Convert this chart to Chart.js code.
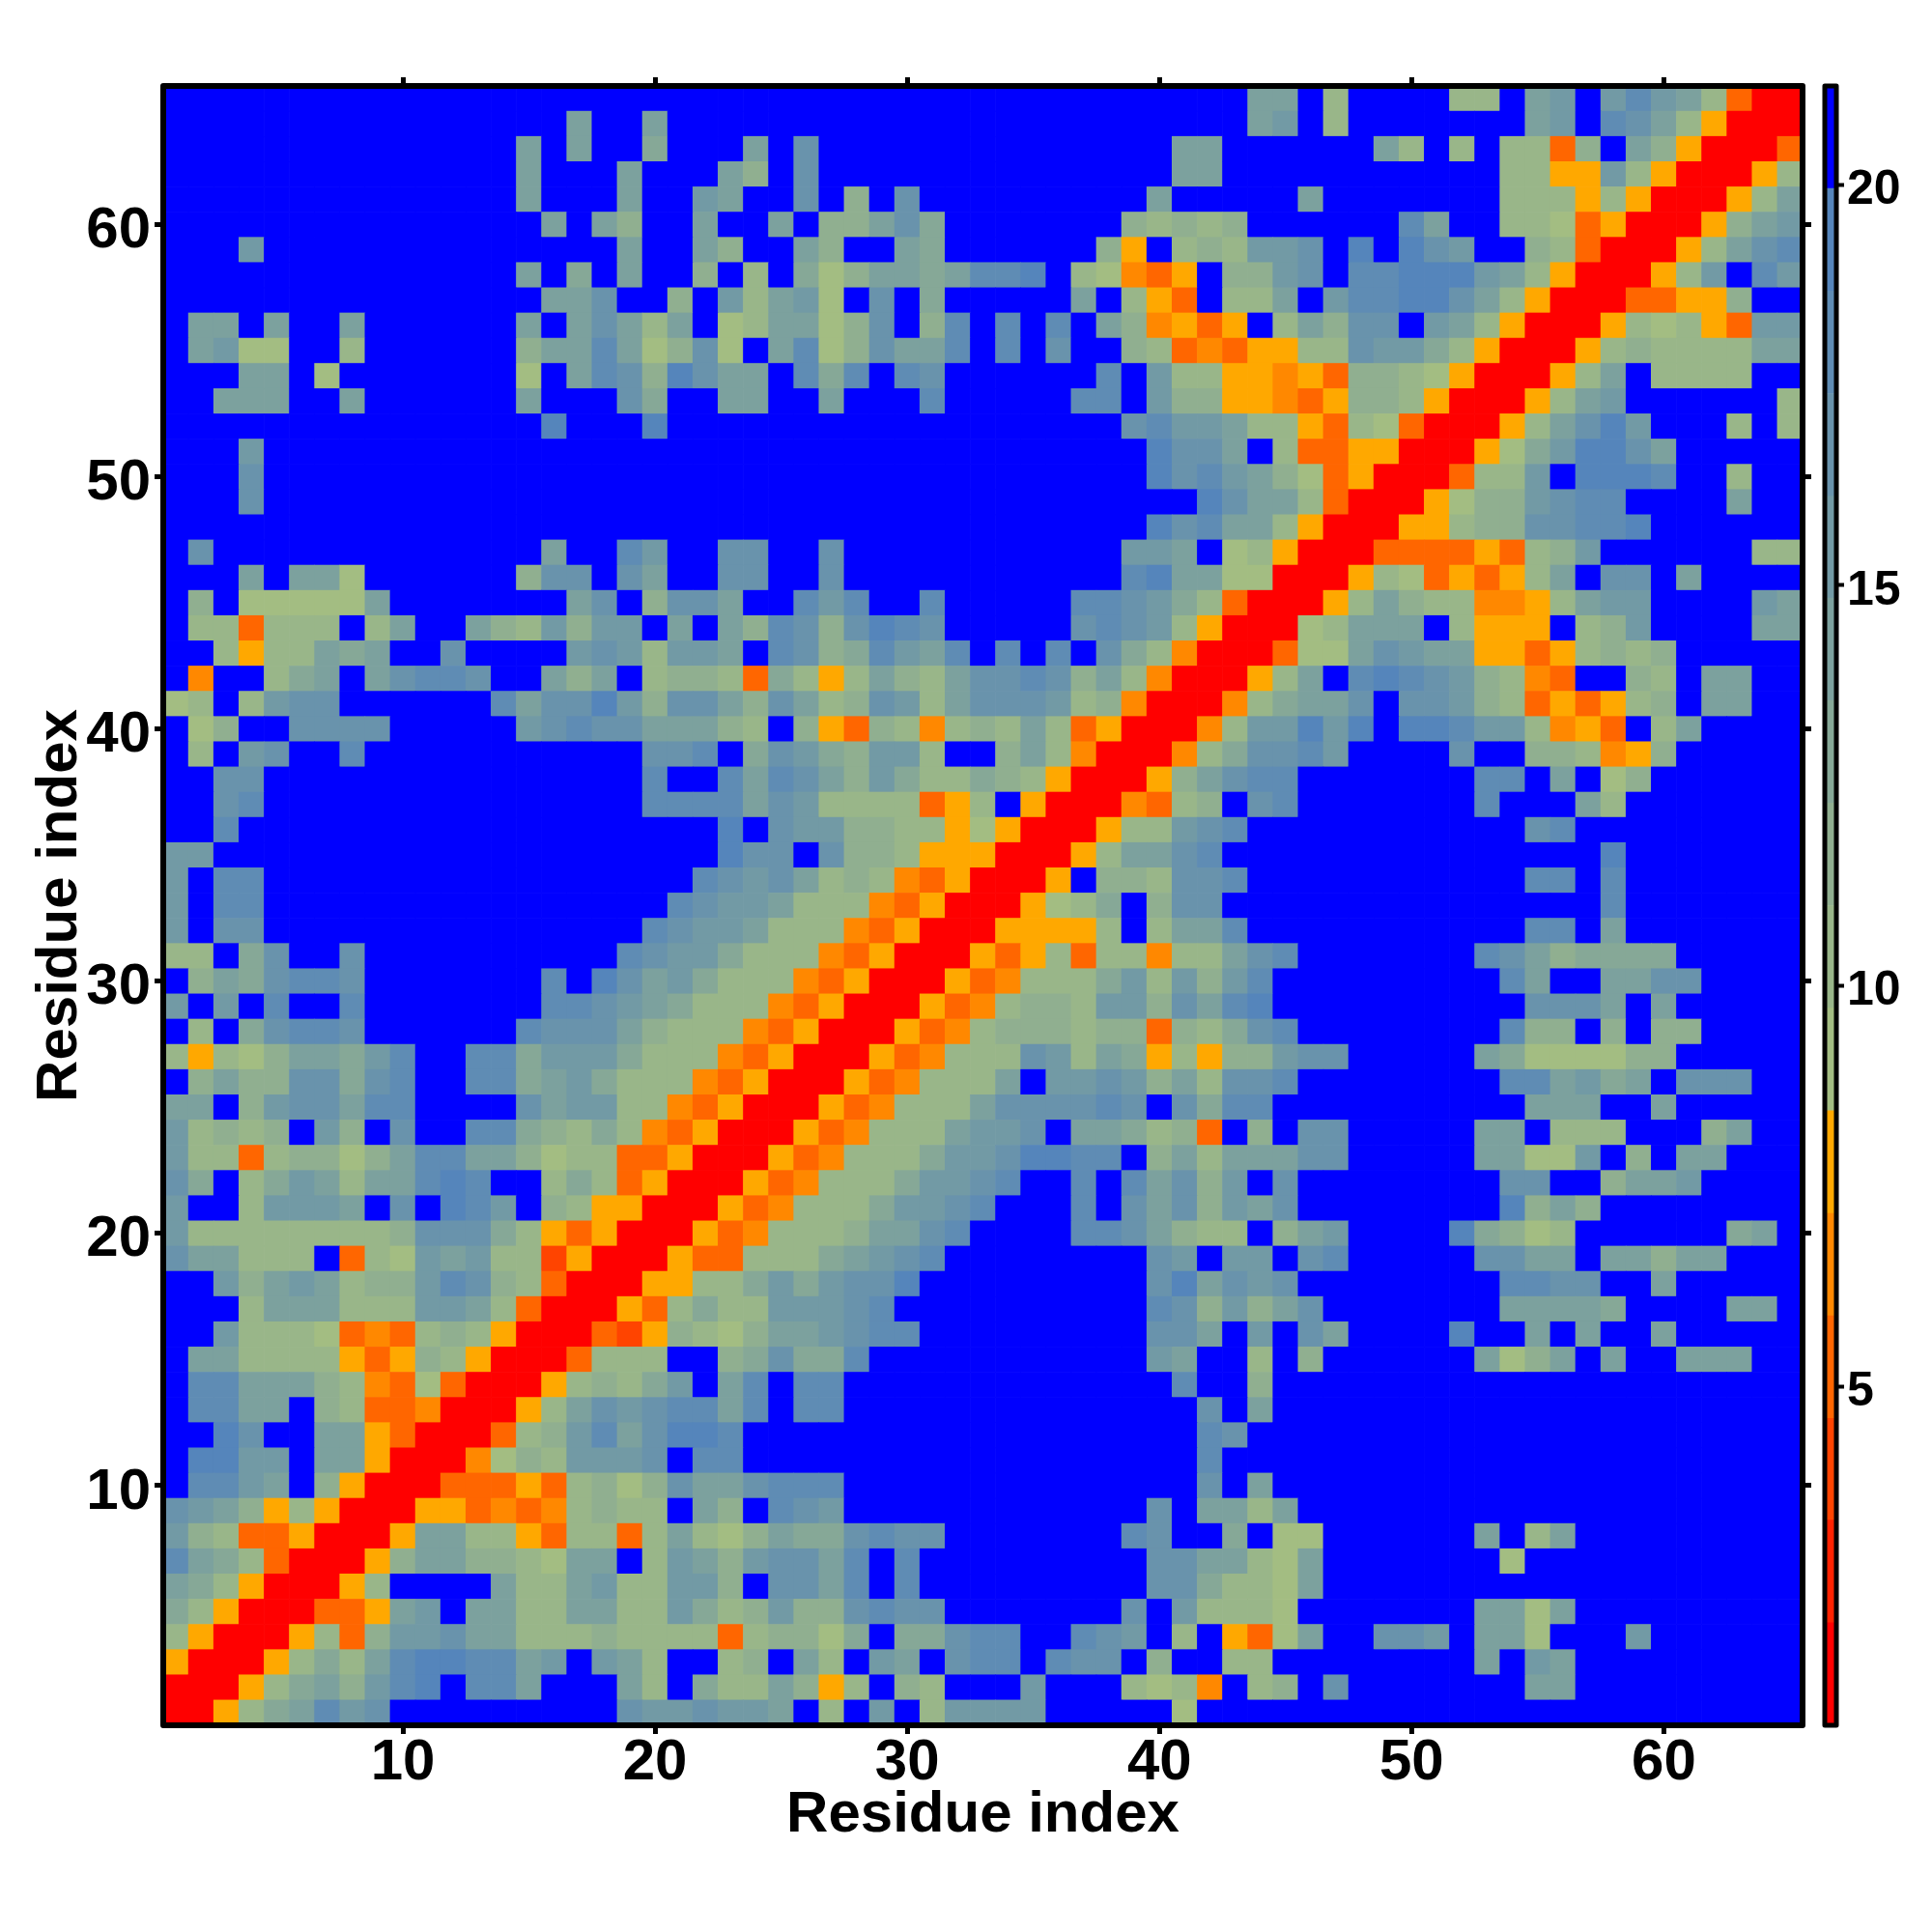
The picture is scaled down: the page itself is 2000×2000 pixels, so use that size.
<!DOCTYPE html>
<html>
<head>
<meta charset="utf-8">
<title>Residue distance map</title>
<script src="https://cdn.jsdelivr.net/npm/chart.js@4"></script>
<style>
    html, body { margin: 0; padding: 0; background: #ffffff; }
    #mapCanvas { position: absolute; left: 0; top: 0; }
    #barCanvas { position: absolute; left: 1860px; top: 0; }
</style>
</head>
<body>
<canvas id="mapCanvas" width="2000" height="2000"></canvas>
<canvas id="barCanvas" width="140" height="2000"></canvas>
<script>
// Tick labels
const residueTicks = [10, 20, 30, 40, 50, 60];
const colorbarTicks = [5, 10, 15, 20];

// Colour bands, lowest first: edges
const bandEdges = [0.77, 2.05, 3.33, 4.6, 5.88, 7.16, 8.44, 9.72, 11.0, 12.28, 13.56, 14.84, 16.11, 17.39, 18.67, 19.95, 21.23];
const bandColors = [
    '#ff0000', '#ff2200', '#ff4400', '#ff6600', '#ff8800', '#ffa800',
    '#a3bd82', '#99b689', '#90af90', '#86a897', '#7ca19e', '#729aa5', '#6993ac', '#5f8cb4', '#5585bb',
    '#0000ff'
];

// The map is symmetric. Each row holds columns from the diagonal to 65,
// one hex digit per cell = index of the colour band
const upperRows = [
    "00579adbc fffff ffff cbbc bbaf7fbf7bbbbfffff6fff fffff fffff fffff fffff f",
    "00579a8bdefddafffa7f9 77a857f87fffbfff7674f7 8fc fffffff aa fffffffff",
    "005797adeeddabfba7ff 78fa7fbafcddfdccf8ff77 ffffffff a f ba fffffffff",
    "005738bbcaa77787777 378869f99cddffdcbf7f53 6affccbfaa6fffbffffff",
    "00335abfaa77aa77b9 78b88cdccfffffffcfb777 6fffffffaa6afffffffff",
    "0057ffffa77ab77bb 8fccadfd fffff ffff cc977 6a fffff fffff fffff ffff",
    "0058aa8876aaf7ba 8bccadfd fffff ffff ccaa7 6a fffff ff 6 fffff fffff f",
    "005aa77537737a7 68a99cdcc fffff ff dcff9f 66 fffff f af7a fffff ffff",
    "005534347877fa 8fdcb fffff fffff ff cfaa7 a fffff fffff fffff fffff",
    "00333537868ca acddd fffff fffff ffff cfa fffff fffff fffff fffff f",
    "004687bbbcfd d fffff fffff fffff fff dff fffff fffff fffff fffff f",
    "00378bdacee d fffff fffff fffff fff dcf fffff fffff fffff fffff f",
    "0057acbcdd adfdd fffff fffff ffff cfa fffff fffff fffff fffff f",
    "0057879bf adfdd fffff fffff fff dff8 fffff fffff fffff fffff f",
    "003777ff 89c99d fffff fffff f baff7 f8ffffffa68afaffaaaff",
    "0032587 68aabcdd fffff ffff ccafb fcaffffeffafaffafffff",
    "005379 77bbbcd fffff fffff dc8b8 ac fffff ff aaaa9 ffff aa f",
    "00557 79b9bcce fffff ffff ceacb c fffff fff ddcc ff a fffff",
    "0053 37779abcd fffff fff cbfbb fcd fffff ccaa f aa8aa fff",
    "005 347778aacd ffff ddca877f 8ab ffff e9867 fffff f 9af",
    "00 5347779bbcd fff dfcac8ba c fffff fff e8a8 fffff fff",
    "0 05347779bbcd ff dfdac8bf c fffff fff cc ff 8aab ffff",
    "005347779bbc eedd f8a7aa acc fffff aa66b f 8 f aa fff",
    "00534777abbc faa9 783f8 fcc fffff aa f 777 fff 8a ff",
    "00534777accccdc fc9dd fffff fffff aaa ff a fffff",
    "00534777afbbcb8a7cc d fffff fff ddab9a f ccc ff",
    "00534777cb7a957588 bcc fffff a9 6666 88 fffff",
    "0053478887883879c d fffff fff d88f8f88 ffff",
    "005347887bb8cade fffff fffff ccca f a fffff",
    "005347779b7b8bd fffff ffff da ff aacc ffff",
    "005357377477ac d fffff ff dca89999 fffff",
    "0055557f7aadf fffff fffff dd f a fffff ff",
    "005679f8ccff fffff fffff fff d fffff ff",
    "005f887ccdf fffff fffff dd f d fffff ff",
    "0057aacdff fffff fffff fff e fffff ff",
    "00577bcdf fffff fffff cd fffff ffff",
    "004378fc d fffff ff d fff a7 fffff ff",
    "0058acd d fffff ff dd f a f 68 fffff f",
    "00479c cdb ffff c ff 887 458 fffff",
    "0047b bebefeedbb7453f7affff",
    "0047 9aacfccb87353578faaff",
    "005 7afdedcb8743ff87faaff",
    "00 366acbaa55357878fffff",
    "0 067aaaf7555f78bffffaa",
    "0057a8774457abbffffba",
    "0057635357afccfaffff",
    "0033335378bffffff77",
    "0055788ccddeffffff",
    "005688bcddffffaff",
    "00377bfeeedff7ff",
    "00569beecafffff",
    "0057acebfff7f7",
    "0057abffffff7",
    "0057af7777ff",
    "005787777aa",
    "00576753bb",
    "0033558ff",
    "0057bfdb",
    "0057acd",
    "0058ab",
    "0057a",
    "0057",
    "003",
    "00",
    "0"
];

const residues = upperRows.map((row, i) => String(i + 1));
const blackFont = { family: '"Liberation Sans"', weight: 'bold' };

// Band index of a cell
function levelAt(row, col) {
    const a = Math.min(row, col);
    const b = Math.max(row, col);
    const text = upperRows[a].replace(/ /g, '');
    const digit = text[b - a];
    return digit === undefined ? 15 : parseInt(digit, 16);
}

// One dataset per row, each cell is a floating bar one residue tall
const rowDatasets = upperRows.map((text, row) => ({
    data: residues.map(() => [row + 0.5, row + 1.5]),
    backgroundColor: residues.map((label, col) => bandColors[levelAt(row, col)]),
    borderWidth: 0,
    barPercentage: 1,
    categoryPercentage: 1,
    grouped: false
}));

// Thick box round the plot area
const framePlugin = {
    id: 'frame',
    afterDatasetsDraw(chart, args, opts) {
        const { ctx, chartArea } = chart;
        ctx.save();
        ctx.strokeStyle = '#000000';
        ctx.lineWidth = opts.width;
        ctx.lineJoin = 'round';
        ctx.strokeRect(chartArea.left, chartArea.top, chartArea.width, chartArea.height);
        ctx.restore();
    }
};

function setTicks(values) {
    return scale => { scale.ticks = values.map(v => ({ value: v })); };
}

function tickGrid() {
    return { drawOnChartArea: false, drawTicks: true, tickLength: 9, tickWidth: 5, tickColor: '#000000', offset: false, z: 1 };
}

new Chart(document.getElementById('mapCanvas'), {
    type: 'bar',
    data: { labels: residues, datasets: rowDatasets },
    plugins: [framePlugin],
    options: {
        responsive: false,
        animation: false,
        devicePixelRatio: 1,
        layout: { padding: 0 },
        plugins: { legend: { display: false }, tooltip: { enabled: false }, frame: { width: 6 } },
        scales: {
            x: {
                type: 'category',
                position: 'bottom',
                offset: true,
                border: { display: false },
                grid: tickGrid(),
                afterBuildTicks: scale => { scale.ticks = residueTicks.map(v => ({ value: v - 1 })); },
                afterFit: scale => { scale.height = 214; },
                ticks: { autoSkip: false, maxRotation: 0, padding: -6, color: '#000000', font: { ...blackFont, size: 60 } },
                title: { display: true, text: 'Residue index', color: '#000000', font: { ...blackFont, size: 60 }, padding: { top: 0, bottom: 85 } }
            },
            y: {
                type: 'linear',
                position: 'left',
                min: 0.5,
                max: 65.5,
                border: { display: false },
                grid: tickGrid(),
                afterBuildTicks: setTicks(residueTicks),
                afterFit: scale => { scale.width = 169; },
                ticks: { autoSkip: false, padding: 4, labelOffset: 7, color: '#000000', font: { ...blackFont, size: 60 } },
                title: { display: true, text: 'Residue index', color: '#000000', font: { ...blackFont, size: 60 }, padding: { top: 26, bottom: 0 } }
            },
            xTop: {
                axis: 'x',
                type: 'linear',
                position: 'top',
                min: 0.5,
                max: 65.5,
                offset: false,
                border: { display: false },
                grid: tickGrid(),
                afterBuildTicks: setTicks(residueTicks),
                afterFit: scale => { scale.height = 89; },
                ticks: { display: false }
            },
            yRight: {
                axis: 'y',
                type: 'linear',
                position: 'right',
                min: 0.5,
                max: 65.5,
                border: { display: false },
                grid: tickGrid(),
                afterBuildTicks: setTicks(residueTicks),
                afterFit: scale => { scale.width = 134; },
                ticks: { display: false }
            }
        }
    }
});

// Colour bar
new Chart(document.getElementById('barCanvas'), {
    type: 'bar',
    data: {
        labels: ['band'],
        datasets: bandColors.map((color, i) => ({
            data: [[bandEdges[i], bandEdges[i + 1]]],
            backgroundColor: color,
            borderWidth: 0,
            barPercentage: 1,
            categoryPercentage: 1,
            grouped: false
        }))
    },
    plugins: [framePlugin],
    options: {
        responsive: false,
        animation: false,
        devicePixelRatio: 1,
        layout: { padding: { left: 29, right: 0, top: 89, bottom: 214 } },
        plugins: { legend: { display: false }, tooltip: { enabled: false }, frame: { width: 5 } },
        scales: {
            x: { display: false, offset: true },
            y: {
                type: 'linear',
                position: 'right',
                min: bandEdges[0],
                max: bandEdges[bandEdges.length - 1],
                border: { display: false },
                grid: { drawOnChartArea: false, drawTicks: true, tickLength: 8, tickWidth: 4, tickColor: '#000000', z: 1 },
                afterBuildTicks: setTicks(colorbarTicks),
                afterFit: scale => { scale.width = 99; },
                ticks: { autoSkip: false, padding: 3, labelOffset: 6, color: '#000000', font: { ...blackFont, size: 50 } }
            }
        }
    }
});
</script>
</body>
</html>
